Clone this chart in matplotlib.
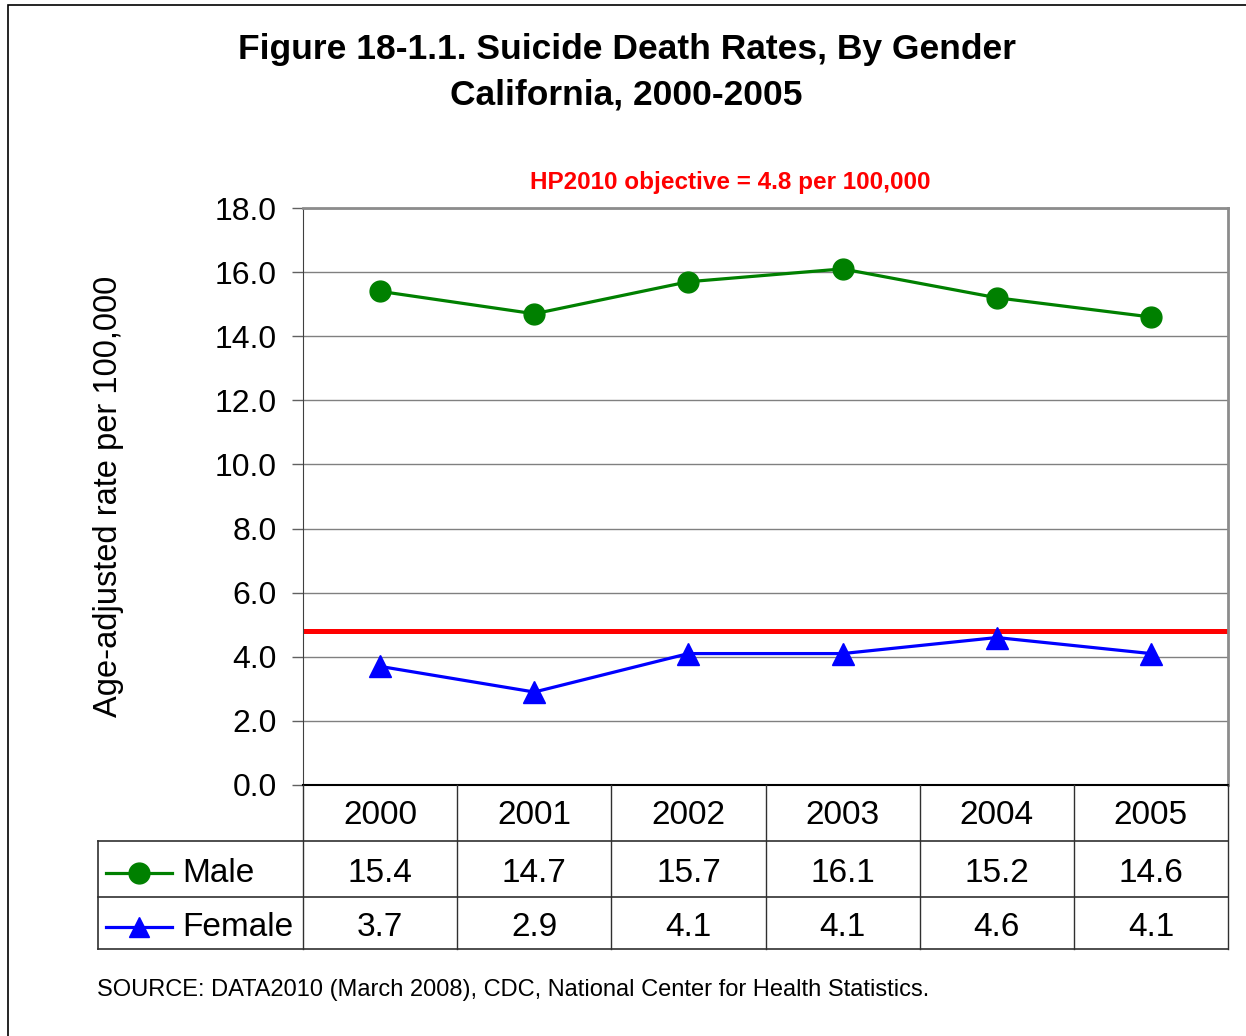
import matplotlib
matplotlib.use("Agg")
import matplotlib.pyplot as plt
from matplotlib.patches import Rectangle

plt.rcParams['font.family'] = ['Liberation Sans', 'DejaVu Sans']

years = ["2000", "2001", "2002", "2003", "2004", "2005"]
male = [15.4, 14.7, 15.7, 16.1, 15.2, 14.6]
female = [3.7, 2.9, 4.1, 4.1, 4.6, 4.1]
objective = 4.8
yticks = [0, 2, 4, 6, 8, 10, 12, 14, 16, 18]
title = "Figure 18-1.1. Suicide Death Rates, By Gender\nCalifornia, 2000-2005"
objective_label = "HP2010 objective = 4.8 per 100,000"
ylabel = "Age-adjusted rate per 100,000"
source = "SOURCE: DATA2010 (March 2008), CDC, National Center for Health Statistics."
series_names = ["Male", "Female"]

W, H = 1246, 1036
fig = plt.figure(figsize=(W / 100, H / 100), dpi=100)

def fx(px):
    return px / W

def fy(py):
    return 1 - py / H

# outer border
fig.add_artist(Rectangle((fx(8), fy(1100)), fx(1300), fy(5) - fy(1100),
                         transform=fig.transFigure, fill=False, ec='black', lw=1.2))

# main plot area
L, R, T, B = 303, 1228, 208, 785
ax = fig.add_axes([fx(L), fy(B), fx(R - L), fy(T) - fy(B)])
x = list(range(len(years)))
ax.set_xlim(-0.5, len(years) - 0.5)
ax.set_ylim(0, 18)
ax.set_yticks(yticks)
ax.set_yticklabels([f"{v:.1f}" for v in yticks], fontsize=23)
ax.tick_params(axis='y', length=8, width=1, color='#606060', pad=11)
ax.set_xticks([])
ax.grid(axis='y', color='#808080', lw=1)
ax.set_axisbelow(True)
for s in ['top', 'right']:
    ax.spines[s].set_color('#8c8c8c')
    ax.spines[s].set_linewidth(2)
ax.spines['left'].set_color('#404040')
ax.spines['bottom'].set_color('black')
ax.spines['bottom'].set_linewidth(1.5)

ax.axhline(objective, color='#ff0000', lw=3.6, zorder=2)
ax.plot(x, male, color='#008000', lw=2.3, marker='o', ms=15, zorder=3, clip_on=False)
ax.plot(x, female, color='#0000ff', lw=2.3, marker='^', ms=16, zorder=3, clip_on=False)

ax.set_ylabel(ylabel, fontsize=23.5)
ax.yaxis.set_label_coords((124 - L) / (R - L), 0.5)

fig.text(0.503, fy(72), title, ha='center', va='center', fontsize=25.5,
         fontweight='bold', linespacing=1.48)
fig.text(fx(730), fy(183), objective_label, ha='center', va='center',
         fontsize=17.5, fontweight='bold', color='#ff0000')
fig.text(fx(97), fy(990), source, ha='left', va='center', fontsize=17)

# data table
TL, TT, TB = 98, 785, 949
tab = fig.add_axes([fx(TL), fy(TB), fx(R - TL), fy(TT) - fy(TB)])
lab_w = (L - TL) / ((R - L) / len(years))
tab.set_xlim(-0.5 - lab_w, len(years) - 0.5)
rows = [0, 56, 112, 164]
tab.set_ylim(rows[-1], 0)
tab.axis('off')
lc = '#303030'
for i in range(len(years) + 1):
    tab.plot([i - 0.5, i - 0.5], [rows[0], rows[-1]], color=lc, lw=1, clip_on=False)
tab.plot([-0.5 - lab_w, -0.5 - lab_w], [rows[1], rows[-1]], color=lc, lw=1.2, clip_on=False)
for r in rows[1:]:
    tab.plot([-0.5 - lab_w, len(years) - 0.5], [r, r], color=lc, lw=1.2, clip_on=False)

fs = 24
for i, yr in enumerate(years):
    tab.text(i, (rows[0] + rows[1]) / 2 + 3, yr, ha='center', va='center', fontsize=fs)
    tab.text(i, (rows[1] + rows[2]) / 2 + 5, f"{male[i]:.1f}", ha='center', va='center', fontsize=fs)
    tab.text(i, (rows[2] + rows[3]) / 2 + 4, f"{female[i]:.1f}", ha='center', va='center', fontsize=fs)

cw = (R - L) / len(years)
def dx(px):
    return -0.5 - lab_w + (px - TL) / cw

for (name, col, mk, r0, r1) in [(series_names[0], '#008000', 'o', rows[1], rows[2]),
                                (series_names[1], '#0000ff', '^', rows[2], rows[3])]:
    yc = (r0 + r1) / 2 + 4
    tab.plot([dx(106), dx(172)], [yc, yc], color=col, lw=2.3, clip_on=False)
    tab.plot([dx(139)], [yc], color=col, marker=mk, ms=15, clip_on=False)
    tab.text(dx(182), yc + 1, name, ha='left', va='center', fontsize=fs)

fig.savefig("out.png", dpi=100)
